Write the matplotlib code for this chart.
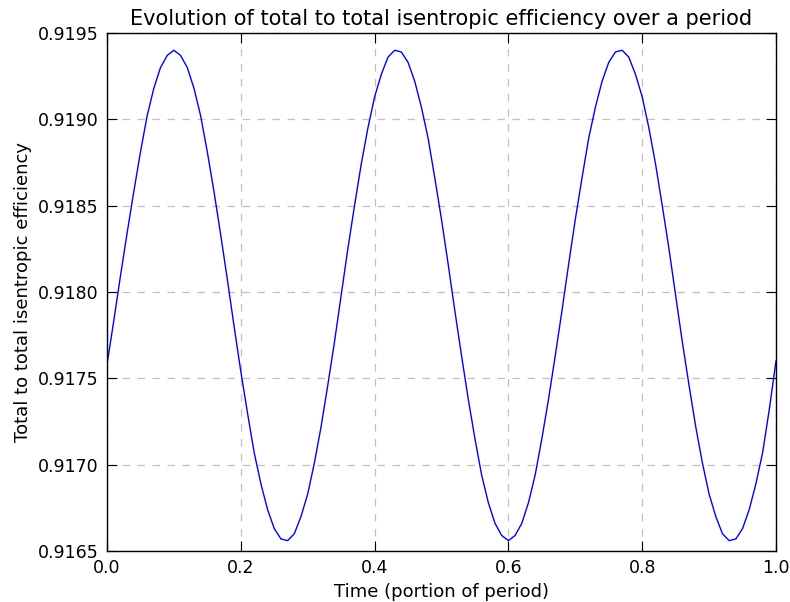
import matplotlib
matplotlib.use('Agg')
import matplotlib.pyplot as plt

# time samples (portion of period)
time = [i / 100 for i in range(101)]

efficiency = [
    0.91758, 0.91783, 0.91809, 0.91834, 0.91858, 0.91881, 0.91902, 0.91918, 0.91930, 0.91937,
    0.91940, 0.91937, 0.91930, 0.91918, 0.91902, 0.91881, 0.91858, 0.91833, 0.91807, 0.91780,
    0.91754, 0.91730, 0.91707, 0.91689, 0.91674, 0.91663, 0.91657, 0.91656, 0.91660, 0.91670,
    0.91683, 0.91701, 0.91722, 0.91746, 0.91771, 0.91798, 0.91825, 0.91850, 0.91874, 0.91895,
    0.91913, 0.91926, 0.91936, 0.91940, 0.91939, 0.91933, 0.91922, 0.91907, 0.91889, 0.91866,
    0.91842, 0.91816, 0.91789, 0.91763, 0.91738, 0.91715, 0.91694, 0.91678, 0.91666, 0.91659,
    0.91656, 0.91659, 0.91666, 0.91678, 0.91694, 0.91715, 0.91738, 0.91763, 0.91789, 0.91816,
    0.91842, 0.91866, 0.91889, 0.91907, 0.91922, 0.91933, 0.91939, 0.91940, 0.91936, 0.91926,
    0.91913, 0.91895, 0.91874, 0.91850, 0.91825, 0.91798, 0.91771, 0.91746, 0.91722, 0.91701,
    0.91683, 0.91670, 0.91660, 0.91656, 0.91657, 0.91663, 0.91674, 0.91689, 0.91707, 0.91732,
    0.91760,
]

xticks = [0.0, 0.2, 0.4, 0.6, 0.8, 1.0]
yticks = [0.9165, 0.9170, 0.9175, 0.9180, 0.9185, 0.9190, 0.9195]

fig = plt.figure(figsize=(7.9, 6.02), dpi=100)
ax = fig.add_axes([107 / 790, 51 / 602, 669 / 790, 518 / 602])
ax.plot(time, efficiency, color='#0000ff', linewidth=1.0)

ax.set_xlim(0.0, 1.0)
ax.set_ylim(0.9165, 0.9195)
ax.set_xticks(xticks)
ax.set_xticklabels(['%.1f' % v for v in xticks])
ax.set_yticks(yticks)
ax.set_yticklabels(['%.4f' % v for v in yticks])
ax.tick_params(direction='in', top=True, right=True, length=7, labelsize=12.5, pad=6)
ax.grid(True, color='#c0c0c0', linestyle=(0, (6, 6)), linewidth=0.9)
for s in ax.spines.values():
    s.set_linewidth(1.0)

ax.set_xlabel('Time (portion of period)', fontsize=13)
ax.set_ylabel('Total to total isentropic efficiency', fontsize=13)
ax.set_title('Evolution of total to total isentropic efficiency over a period', fontsize=15)

fig.savefig('out.png', dpi=100, facecolor='white')
